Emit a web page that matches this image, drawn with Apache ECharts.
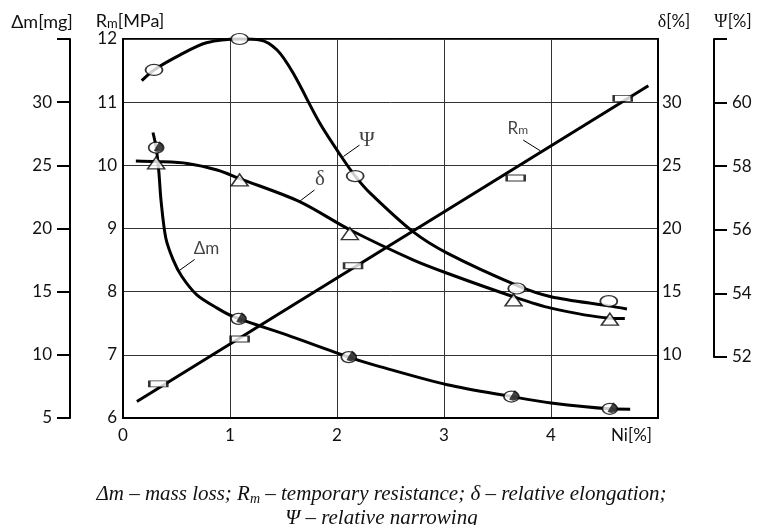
<!DOCTYPE html>
<html>
<head>
<meta charset="utf-8">
<script src="https://cdn.jsdelivr.net/npm/echarts@6/dist/echarts.min.js"></script>
<style>
html, body { margin: 0; padding: 0; background: #fff; }
#chart { width: 763px; height: 525px; }
</style>
</head>
<body>
<div id="chart"></div>
<script>
// Ni content [%] on x, four properties on their own y scales
var rmLine = [[0.13, 6.26], [4.91, 11.26]];
var rmPoints = [[0.33, 6.54], [1.09, 7.25], [2.15, 8.41], [3.67, 9.80], [4.67, 11.06]];

var psiCurve = [[0.175, 60.68], [0.29, 61.02], [0.53, 61.49], [0.78, 61.88], [1.09, 62.0], [1.28, 61.97],
	[1.44, 61.65], [1.59, 60.92], [1.84, 59.33], [2.04, 58.28], [2.17, 57.66], [2.31, 57.12],
	[2.71, 55.9], [3.03, 55.22], [3.68, 54.2], [4.0, 53.84], [4.54, 53.55], [4.71, 53.45]];
var psiPoints = [[0.29, 61.02], [1.09, 62.0], [2.17, 57.66], [3.68, 54.1], [4.54, 53.7]];

var deltaCurve = [[0.12, 25.35], [0.31, 25.3], [0.6, 25.15], [0.88, 24.63], [1.09, 23.95], [1.65, 22.13],
	[2.12, 19.9], [2.71, 17.52], [3.03, 16.46], [3.65, 14.6], [4.0, 13.7],
	[4.55, 12.9], [4.69, 12.87]];
var deltaPoints = [[0.31, 25.2], [1.09, 23.84], [2.12, 19.6], [3.65, 14.35], [4.55, 12.82]];

var dmCurve = [[0.28, 27.6], [0.31, 26.4], [0.335, 24.5], [0.355, 22.25], [0.40, 19.25], [0.47, 17.5],
	[0.55, 16.2], [0.69, 14.75], [0.88, 13.7], [1.03, 13.03], [1.53, 11.58], [2.11, 9.82],
	[2.40, 9.07], [3.03, 7.63], [3.63, 6.7], [4.0, 6.19], [4.55, 5.73], [4.74, 5.7]];
var dmPoints = [[0.31, 26.4], [1.08, 12.85], [2.11, 9.82], [3.63, 6.7], [4.55, 5.73]];

// curve labels, placed in Rm units
var tagText = ['{g|Ψ}', '{g|δ}', 'Δm', 'R{s|m}'];
var tagPos = [[2.28, 10.40], [1.84, 9.77], [0.78, 8.69], [3.69, 10.59]];
var leaders = [
	[[2.21, 10.32], [2.06, 10.14]],
	[[1.79, 9.61], [1.65, 9.43]],
	[[0.67, 8.51], [0.53, 8.34]],
	[[3.74, 10.40], [3.90, 10.23]]
];

var sans = 'Lato';
var serif = 'Liberation Serif';
var tickFont = { fontFamily: sans, fontSize: 17, color: '#111' };
var black = '#000';

var myChart = echarts.init(document.getElementById('chart'));
var option = {
	animation: false,
	title: {
		text: '{i|Δm – mass loss; R}{sub|m}{i| – temporary resistance; δ – relative elongation;}\n{i|Ψ – relative narrowing}',
		left: 'center',
		top: 477,
		textStyle: {
			fontWeight: 'normal',
			rich: {
				i: { fontFamily: serif, fontStyle: 'italic', fontWeight: 'normal', fontSize: 21, lineHeight: 24, color: '#111' },
				sub: { fontFamily: serif, fontStyle: 'italic', fontWeight: 'normal', fontSize: 14, lineHeight: 24, verticalAlign: 'bottom', padding: [8, 0, 0, 0], color: '#111' }
			}
		}
	},
	grid: [
		{ left: 123, right: 105, top: 39, bottom: 107, show: true, borderColor: black, borderWidth: 2, backgroundColor: 'transparent' },
		{ left: 714, width: 1, top: 39, height: 318 }
	],
	xAxis: [{
		type: 'value', min: 0, max: 5, interval: 1,
		axisLine: { lineStyle: { color: black, width: 2 } },
		axisTick: { show: false },
		axisLabel: Object.assign({ margin: 9, formatter: function (v) { return v === 5 ? '' : v; } }, tickFont),
		splitLine: { lineStyle: { color: '#333', width: 1 } },
		name: 'Ni[%]', nameLocation: 'end', nameGap: -47,
		nameTextStyle: { fontFamily: sans, fontSize: 17, color: '#111', verticalAlign: 'top', padding: [9, 0, 0, 0] }
	}, {
		gridIndex: 1, type: 'value', show: false, min: 0, max: 1
	}],
	yAxis: [{
		// Rm
		type: 'value', min: 6, max: 12, interval: 1, position: 'left',
		axisLine: { show: true, lineStyle: { color: black, width: 2 } },
		axisTick: { show: false },
		axisLabel: Object.assign({ margin: 6 }, tickFont),
		splitLine: { lineStyle: { color: '#333', width: 1 } },
		name: 'R{s|m}[MPa]', nameLocation: 'end', nameGap: 8,
		nameTextStyle: {
			fontFamily: sans, fontSize: 18, color: '#111', padding: [0, 0, 0, 14],
			rich: { s: { fontFamily: sans, fontSize: 13, color: '#111', padding: [4, 0, 0, 0] } }
		}
	}, {
		// delta
		type: 'value', min: 5, max: 35, interval: 5, position: 'right',
		axisLine: { show: true, lineStyle: { color: black, width: 2 } },
		axisTick: { show: false },
		axisLabel: Object.assign({ margin: 4, formatter: function (v) { return (v === 5 || v === 35) ? '' : v; } }, tickFont),
		splitLine: { show: false },
		name: '{g|δ}[%]', nameLocation: 'end', nameGap: 8,
		nameTextStyle: {
			fontFamily: sans, fontSize: 17, color: '#111', padding: [0, 0, 0, 32],
			rich: { g: { fontFamily: serif, fontSize: 18, color: '#111' } }
		}
	}, {
		// mass loss
		type: 'value', min: 5, max: 35, interval: 5, position: 'left', offset: 53,
		axisLine: { show: true, lineStyle: { color: black, width: 2 } },
		axisTick: { show: true, length: 13, lineStyle: { color: black, width: 2 } },
		axisLabel: Object.assign({ margin: 18, formatter: function (v) { return v === 35 ? '' : v; } }, tickFont),
		splitLine: { show: false },
		name: 'Δm[mg]', nameLocation: 'end', nameGap: 8,
		nameTextStyle: { fontFamily: sans, fontSize: 18, color: '#111', padding: [0, 56, 0, 0] }
	}, {
		// psi, data scale only
		type: 'value', min: 50, max: 62, position: 'right', show: false
	}, {
		// psi, drawn scale
		gridIndex: 1, type: 'value', min: 52, max: 62, interval: 2, position: 'right',
		axisLine: { show: true, lineStyle: { color: black, width: 2 } },
		axisTick: { show: true, length: 13, lineStyle: { color: black, width: 2 } },
		axisLabel: Object.assign({ margin: 17, formatter: function (v) { return v === 62 ? '' : v; } }, tickFont),
		splitLine: { show: false },
		name: '{g|Ψ}[%]', nameLocation: 'end', nameGap: 8,
		nameTextStyle: {
			fontFamily: sans, fontSize: 17, color: '#111', padding: [0, 0, 0, 38],
			rich: { g: { fontFamily: serif, fontSize: 18, color: '#111' } }
		}
	}],
	series: [{
		name: 'Rm', type: 'line', data: rmLine, symbol: 'none', clip: false,
		lineStyle: { color: black, width: 3 }
	}, {
		name: 'Rm points', type: 'scatter', data: rmPoints, symbol: 'rect', symbolSize: [18, 6], clip: false,
		itemStyle: { color: '#fff', borderColor: black, borderWidth: 1.5 }, z: 5
	}, {
		name: 'Psi', type: 'line', yAxisIndex: 3, data: psiCurve, smooth: 0.3,
		symbol: 'none', clip: false, lineStyle: { color: black, width: 3 }
	}, {
		name: 'Psi points', type: 'scatter', yAxisIndex: 3, data: psiPoints, symbol: 'circle', symbolSize: [17, 11],
		clip: false, itemStyle: { color: '#fff', borderColor: black, borderWidth: 1.5 }, z: 5
	}, {
		name: 'delta', type: 'line', yAxisIndex: 1, data: deltaCurve, smooth: 0.3,
		symbol: 'none', clip: false, lineStyle: { color: black, width: 3 }
	}, {
		name: 'delta points', type: 'scatter', yAxisIndex: 1, data: deltaPoints, symbol: 'triangle', symbolSize: [17, 12],
		clip: false, itemStyle: { color: '#fff', borderColor: black, borderWidth: 1.5 }, z: 5
	}, {
		name: 'dm', type: 'line', yAxisIndex: 2, data: dmCurve, smooth: 0.3,
		symbol: 'none', clip: false, lineStyle: { color: black, width: 3 }
	}, {
		name: 'dm points', type: 'scatter', yAxisIndex: 2, data: dmPoints, symbol: 'circle', symbolSize: [15, 11],
		clip: false, itemStyle: { color: '#fff', borderColor: black, borderWidth: 1.5 }, z: 5
	}, {
		name: 'dm points half', type: 'scatter', yAxisIndex: 2, data: dmPoints,
		symbol: 'path://M10,0 A10,10 0 0 1 10,20 Z', symbolSize: [7, 11], symbolOffset: [3.5, 0], symbolRotate: -30,
		clip: false, itemStyle: { color: '#111' }, z: 6
	}, {
		name: 'leaders', type: 'lines', coordinateSystem: 'cartesian2d',
		data: leaders.map(function (c) { return { coords: c }; }),
		lineStyle: { color: black, width: 1, opacity: 1 }, symbol: 'none', silent: true
	}, {
		name: 'tags', type: 'scatter', symbolSize: 1, silent: true,
		data: tagPos.map(function (p, i) { return { value: p, name: tagText[i] }; }),
		itemStyle: { color: 'transparent' },
		label: {
			show: true, position: 'inside', formatter: '{b}',
			fontFamily: sans, fontSize: 17, color: '#111',
			rich: {
				g: { fontFamily: serif, fontSize: 21, color: '#111' },
				s: { fontFamily: sans, fontSize: 12, color: '#111', padding: [5, 0, 0, 0] }
			}
		}
	}]
};
myChart.setOption(option);
</script>
</body>
</html>
